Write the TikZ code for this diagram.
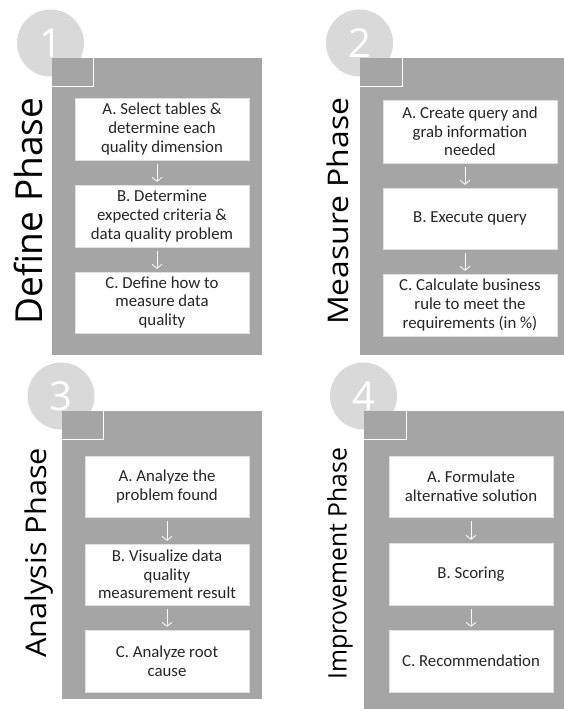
\documentclass[tikz,border=0pt]{standalone}
\usepackage{fontspec}
\setmainfont{Carlito}
\newfontfamily\headfont{Open Sans}
\usetikzlibrary{arrows.meta}
\definecolor{panelgray}{HTML}{A5A5A5}
\definecolor{discgray}{HTML}{D9D9D9}
\definecolor{inkgray}{HTML}{262626}

\begin{document}
\begin{tikzpicture}[x=1pt,y=-1pt,
  disc/.style={circle, fill=discgray, minimum size=67pt, inner sep=0pt,
    text=white, font=\headfont\fontsize{40}{40}\selectfont},
  tabedge/.style={draw=white, line width=0.9pt},
  stepbox/.style={fill=white, draw=black!12, line width=0.4pt, align=center,
    text=inkgray, inner sep=0pt, font=\fontsize{16.8}{18.7}\selectfont},
  flow/.style={draw=white, line width=0.8pt,
    -{Straight Barb[length=4pt,width=10pt]}, shorten <=4pt, shorten >=3pt},
  title/.style={rotate=90, anchor=base west, inner sep=0pt, text=black}
]
\useasboundingbox (0,0) rectangle (564,709);

% ---------- Phase 1: Define ----------
\node[disc] (n1) at (50.5,43) {1};
\fill[panelgray] (52,58) rectangle (262,355);
\fill[panelgray] (52,58) rectangle (93,86);
\draw[tabedge] (52,86) -- (93,86) -- (93,58);
\node[title] (t1) at (42,325) {\resizebox{227pt}{28.5pt}{\headfont Define Phase}};
\node[stepbox, minimum width=174pt, minimum height=62pt] (d1) at (162,129)
  {A. Select tables \&\\ determine each\\ quality dimension};
\node[stepbox, minimum width=174pt, minimum height=62pt] (d2) at (162,216)
  {B. Determine\\ expected criteria \&\\ data quality problem};
\node[stepbox, minimum width=174pt, minimum height=61pt] (d3) at (162,302.5)
  {C. Define how to\\ measure data\\ quality};
\draw[flow] ([xshift=-5pt]d1.south) -- ([xshift=-5pt]d2.north);
\draw[flow] ([xshift=-5pt]d2.south) -- ([xshift=-5pt]d3.north);

% ---------- Phase 2: Measure ----------
\node[disc] (n2) at (359.5,43) {2};
\fill[panelgray] (360,58) rectangle (564,355);
\fill[panelgray] (360,58) rectangle (402,86);
\draw[tabedge] (360,86) -- (402,86) -- (402,58);
\node[title] (t2) at (348.3,325) {\resizebox{227pt}{21.6pt}{\headfont Measure Phase}};
\node[stepbox, minimum width=174pt, minimum height=63pt] (m1) at (470,131.5)
  {A. Create query and\\ grab information\\ needed};
\node[stepbox, minimum width=174pt, minimum height=61pt] (m2) at (470,218.5)
  {B. Execute query};
\node[stepbox, minimum width=174pt, minimum height=62pt] (m3) at (470,305)
  {C. Calculate business\\ rule to meet the\\ requirements (in \%)};
\draw[flow] ([xshift=-5pt]m1.south) -- ([xshift=-5pt]m2.north);
\draw[flow] ([xshift=-5pt]m2.south) -- ([xshift=-5pt]m3.north);

% ---------- Phase 3: Analysis ----------
\node[disc] (n3) at (61,396) {3};
\fill[panelgray] (62,411) rectangle (262,699);
\fill[panelgray] (62,411) rectangle (103,439);
\draw[tabedge] (62,439) -- (103,439) -- (103,411);
\node[title] (t3) at (46.7,658) {\resizebox{210pt}{21.7pt}{\headfont Analysis Phase}};
\node[stepbox, minimum width=164pt, minimum height=61pt] (a1) at (167,486.5)
  {A. Analyze the\\ problem found};
\node[stepbox, minimum width=164pt, minimum height=61pt] (a2) at (167,574.5)
  {B. Visualize data\\ quality\\ measurement result};
\node[stepbox, minimum width=164pt, minimum height=62pt] (a3) at (167,661)
  {C. Analyze root\\ cause};
\draw[flow] (a1.south) -- (a2.north);
\draw[flow] (a2.south) -- (a3.north);

% ---------- Phase 4: Improvement ----------
\node[disc] (n4) at (363.5,396) {4};
\fill[panelgray] (364,411) rectangle (564,709);
\fill[panelgray] (364,411) rectangle (406,439);
\draw[tabedge] (364,439) -- (406,439) -- (406,411);
\node[title] (t4) at (346.7,680) {\resizebox{232pt}{19.4pt}{\headfont Improvement Phase}};
\node[stepbox, minimum width=164pt, minimum height=61pt] (i1) at (471,486.5)
  {A. Formulate\\ alternative solution};
\node[stepbox, minimum width=164pt, minimum height=62pt] (i2) at (471,574)
  {B. Scoring};
\node[stepbox, minimum width=164pt, minimum height=62pt] (i3) at (471,661)
  {C. Recommendation};
\draw[flow] (i1.south) -- (i2.north);
\draw[flow] (i2.south) -- (i3.north);
\end{tikzpicture}
\end{document}
